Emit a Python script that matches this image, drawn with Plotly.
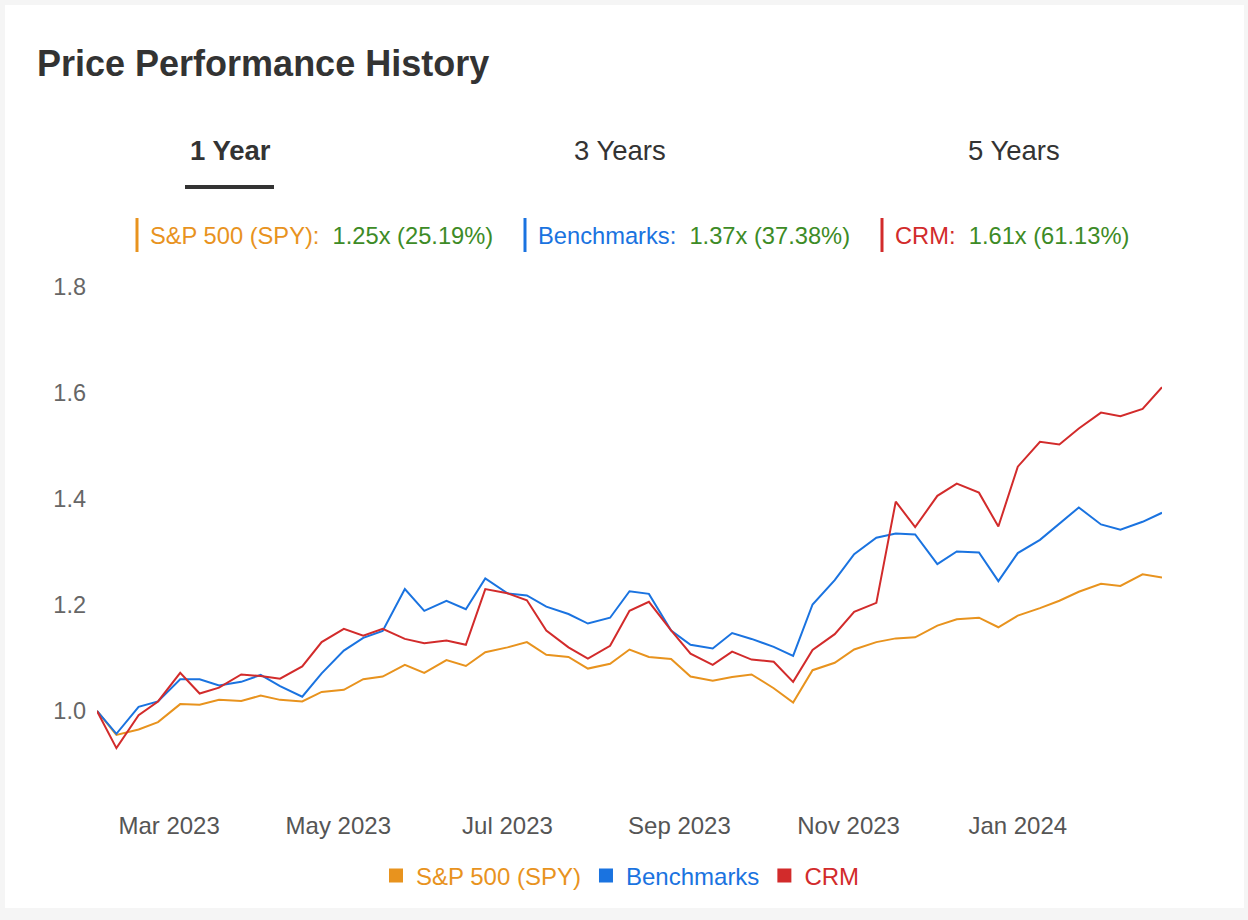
import plotly.graph_objects as go

# ---------------- data ----------------
dates = ["2023-02-03", "2023-02-10", "2023-02-18", "2023-02-25", "2023-03-05", "2023-03-12",
         "2023-03-19", "2023-03-27", "2023-04-03", "2023-04-10", "2023-04-18", "2023-04-25",
         "2023-05-03", "2023-05-10", "2023-05-17", "2023-05-25", "2023-06-01", "2023-06-09",
         "2023-06-16", "2023-06-23", "2023-07-01", "2023-07-08", "2023-07-15", "2023-07-23",
         "2023-07-30", "2023-08-07", "2023-08-14", "2023-08-21", "2023-08-29", "2023-09-05",
         "2023-09-13", "2023-09-20", "2023-09-27", "2023-10-05", "2023-10-12", "2023-10-19",
         "2023-10-27", "2023-11-03", "2023-11-11", "2023-11-18", "2023-11-25", "2023-12-03",
         "2023-12-10", "2023-12-18", "2023-12-25", "2024-01-01", "2024-01-09", "2024-01-16",
         "2024-01-23", "2024-01-31", "2024-02-07", "2024-02-15", "2024-02-22"]

spy = [1.000, 0.955, 0.965, 0.979, 1.013, 1.012, 1.021, 1.019, 1.029, 1.021, 1.018, 1.036,
       1.040, 1.060, 1.065, 1.087, 1.072, 1.096, 1.085, 1.111, 1.120, 1.130, 1.106, 1.102,
       1.080, 1.089, 1.116, 1.102, 1.098, 1.065, 1.057, 1.064, 1.069, 1.043, 1.016, 1.077,
       1.091, 1.116, 1.130, 1.137, 1.139, 1.161, 1.173, 1.176, 1.158, 1.180, 1.194, 1.208,
       1.225, 1.240, 1.236, 1.258, 1.252]

benchmarks = [1.000, 0.957, 1.008, 1.018, 1.060, 1.060, 1.048, 1.055, 1.068, 1.047, 1.027, 1.071,
              1.114, 1.138, 1.151, 1.230, 1.189, 1.208, 1.192, 1.250, 1.222, 1.218, 1.197, 1.183,
              1.165, 1.176, 1.226, 1.221, 1.152, 1.125, 1.118, 1.147, 1.136, 1.121, 1.104, 1.201,
              1.247, 1.296, 1.327, 1.335, 1.333, 1.277, 1.301, 1.299, 1.245, 1.298, 1.323, 1.353,
              1.384, 1.352, 1.342, 1.357, 1.374]

crm = [1.000, 0.930, 0.992, 1.018, 1.072, 1.033, 1.044, 1.069, 1.066, 1.061, 1.084, 1.130,
       1.155, 1.142, 1.155, 1.136, 1.128, 1.133, 1.125, 1.230, 1.222, 1.209, 1.152, 1.120,
       1.099, 1.123, 1.189, 1.206, 1.152, 1.108, 1.087, 1.112, 1.097, 1.093, 1.055, 1.115,
       1.145, 1.187, 1.204, 1.395, 1.347, 1.406, 1.429, 1.412, 1.348, 1.461, 1.508, 1.503,
       1.533, 1.563, 1.556, 1.570, 1.611]

series_names = ["S&P 500 (SPY)", "Benchmarks", "CRM"]
series_values = [spy, benchmarks, crm]
series_summary = ["1.25x (25.19%)", "1.37x (37.38%)", "1.61x (61.13%)"]
tab_labels = ["1 Year", "3 Years", "5 Years"]
y_ticks = [1.0, 1.2, 1.4, 1.6, 1.8]

# ---------------- style ----------------
W, H = 1248, 920
L, R, T, B = 97, 86, 277, 111
colors = ["#E8931E", "#1A73E0", "#D22B2B"]
green = "#3D8B26"
FONT = "Liberation Sans, Arial, Helvetica, sans-serif"

pw, ph = W - L - R, H - T - B


def px(x):
    return (x - L) / pw


def py(y):
    return (H - B - y) / ph


fig = go.Figure()

for name, vals, c in zip(series_names, series_values, colors):
    fig.add_trace(go.Scatter(x=dates, y=vals, mode="lines", name=name,
                             line=dict(color=c, width=2), showlegend=False,
                             hovertemplate="%{y:.3f}<extra>" + name + "</extra>"))
    # legend entry with a square swatch
    fig.add_trace(go.Scatter(x=[None], y=[None], mode="markers",
                             name=f"<span style='color:{c}'>{name}</span>",
                             marker=dict(symbol="square", size=14, color=c),
                             showlegend=True, hoverinfo="skip"))

# y range so that 1.0 -> pixel 711 and 0.2 -> 106 px
unit = 530.0
y_top = 1.0 + (711 - T) / unit
y_bot = 1.0 - (H - B - 711) / unit

shapes = [
    # white card
    dict(type="rect", xref="paper", yref="paper", x0=px(5), x1=px(1244), y0=py(908), y1=py(5),
         fillcolor="white", line=dict(width=0), layer="below"),
    # active tab underline
    dict(type="rect", xref="paper", yref="paper", x0=px(185), x1=px(274), y0=py(189), y1=py(185),
         fillcolor="#333333", line=dict(width=0)),
]

annotations = [
    dict(text="<b>Price Performance History</b>", x=px(35), y=py(63), xanchor="left", yanchor="middle",
         font=dict(size=36, color="#333333", family=FONT)),
]

tab_x = [230, 620, 1014]
for i, (lab, tx) in enumerate(zip(tab_labels, tab_x)):
    annotations.append(dict(text=f"<b>{lab}</b>" if i == 0 else lab, x=px(tx), y=py(151),
                            xanchor="center", yanchor="middle",
                            font=dict(size=27.5, color="#333333", family=FONT)))

bar_x = [137, 525, 882]
for name, summ, c, bx in zip(series_names, series_summary, colors, bar_x):
    shapes.append(dict(type="rect", xref="paper", yref="paper", x0=px(bx - 1.5), x1=px(bx + 1.5),
                       y0=py(252), y1=py(218), fillcolor=c, line=dict(width=0)))
    annotations.append(dict(
        text=f"<span style='color:{c}'>{name}:</span>  <span style='color:{green}'>{summ}</span>",
        x=px(bx + 11), y=py(236), xanchor="left", yanchor="middle",
        font=dict(size=23.7, family=FONT)))

for a in annotations:
    a.update(xref="paper", yref="paper", showarrow=False)

fig.update_layout(
    width=W, height=H,
    margin=dict(l=L, r=R, t=T, b=B, pad=0),
    paper_bgcolor="#F5F5F5",
    plot_bgcolor="rgba(0,0,0,0)",
    font=dict(family=FONT, color="#555555"),
    shapes=shapes,
    annotations=annotations,
    showlegend=True,
    legend=dict(orientation="h", x=px(620.5), xanchor="center", y=py(876), yanchor="middle",
                font=dict(size=24, family=FONT), bgcolor="rgba(0,0,0,0)",
                itemclick=False, itemdoubleclick=False, tracegroupgap=0),
    xaxis=dict(type="date", range=[dates[0], dates[-1]], dtick="M2", tick0="2023-01-01",
               tickformat="%b %Y", showgrid=False, zeroline=False, showline=False, ticks="",
               tickfont=dict(size=24, color="#555555", family=FONT), ticklabelstandoff=0),
    yaxis=dict(range=[y_bot, y_top], tickvals=y_ticks, ticktext=[f"{v:.1f}" for v in y_ticks],
               showgrid=False, zeroline=False, showline=False, ticks="",
               tickfont=dict(size=23.5, color="#666666", family=FONT), ticklabelstandoff=10),
    hovermode="x unified",
)

fig.write_html("out.html", config={"displayModeBar": False},
               post_script="document.body.style.margin='0';document.body.style.padding='0';")
